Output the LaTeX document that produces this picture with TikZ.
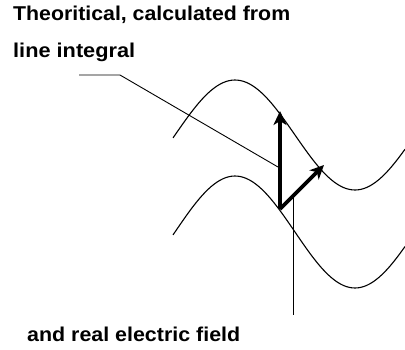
\documentclass[tikz,border=0pt]{standalone}
\usepackage{fontspec}
\usepackage{graphicx}
\setmainfont{Liberation Sans}
\usetikzlibrary{arrows.meta}
\begin{document}
\begin{tikzpicture}[x=1pt,y=-1pt,
  lbl/.style={anchor=base west,inner sep=0pt,font=\fontsize{20}{22}\selectfont\bfseries},
  wave/.style={line width=1.1pt,smooth},
  leader/.style={line width=0.9pt},
  vec/.style={line width=3.6pt,-{Stealth[length=14pt,width=13pt,inset=4pt]}}]
\useasboundingbox (0,0) rectangle (405,349);
\node[lbl] (t1) at (13,20) {\resizebox{277pt}{\height}{Theoritical, calculated from}};
\node[lbl] (t2) at (13,57) {\resizebox{122pt}{\height}{line integral}};
\node[lbl] (t3) at (27,341) {\resizebox{213pt}{\height}{and real electric field}};
% waves
\draw[wave] plot[domain=173:405,samples=80] (\x,{135-55*cos((\x-235)*1.5)});
\draw[wave] plot[domain=173:405,samples=80] (\x,{232-56*cos((\x-235)*1.5)});
% vectors
\coordinate (o) at (280,209);
\coordinate (tipA) at (280,111);
\coordinate (tipB) at (324,165);
\draw[vec] (o) -- (tipA);
\draw[vec] (o) -- (tipB);
% leaders
\coordinate (l1a) at (79,75);
\coordinate (l1b) at (120,75);
\coordinate (l1c) at (278,167);
\draw[leader] (l1a) -- (l1b) -- (l1c);
\coordinate (l2a) at (293,198);
\coordinate (l2b) at (293,315);
\draw[leader] (l2a) -- (l2b);
\end{tikzpicture}
\end{document}
